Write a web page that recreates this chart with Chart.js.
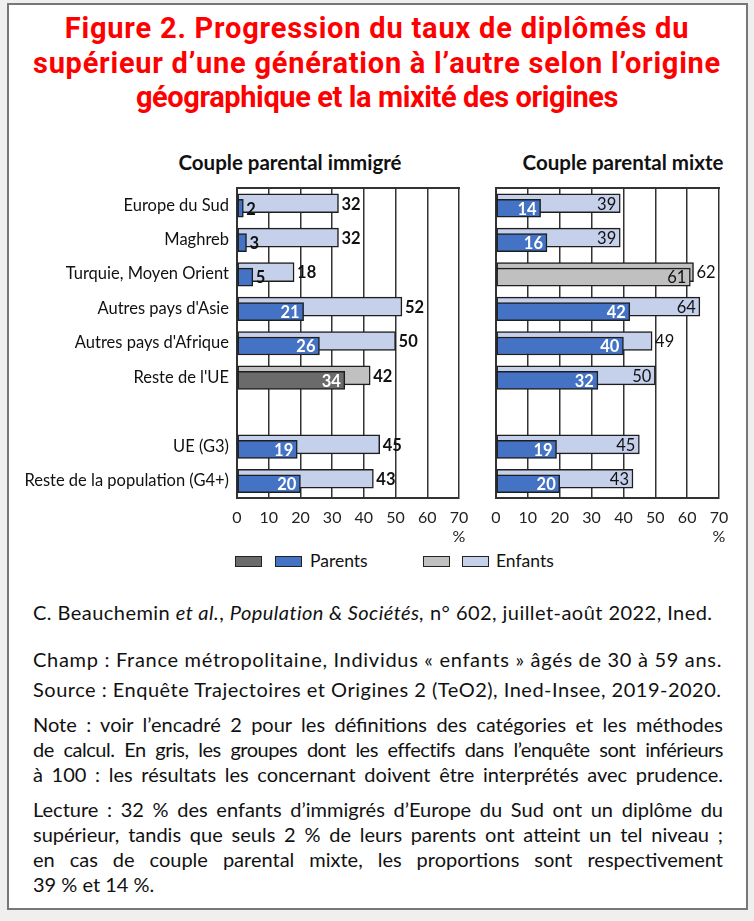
<!DOCTYPE html>
<html lang="fr">
<head>
<meta charset="utf-8">
<title>Figure 2</title>
<script src="https://cdn.jsdelivr.net/npm/chart.js"></script>
<style>
  html, body { margin: 0; padding: 0; }
  body { width: 754px; height: 921px; background: #efefef; position: relative; overflow: hidden; font-family: Lato, "Liberation Sans", sans-serif; color: #111; }
  #frame { position: absolute; left: 7px; top: 3px; width: 737px; height: 903px; border: 2px solid #777; background: #fff; }
  h1 { position: absolute; left: 0; top: 11px; width: 754px; margin: 0; text-align: center; color: #f00; font-family: Roboto, "Liberation Sans", sans-serif; font-weight: bold; font-size: 29px; line-height: 34.5px; }
  h1 span { display: block; }
  .sub { position: absolute; top: 150px; width: 300px; text-align: center; font-weight: bold; font-size: 20.5px; line-height: 24px; }
  #s1 { left: 140px; }
  #s2 { left: 473px; }
  .cv { position: absolute; top: 180px; height: 362px; }
  #c1 { left: 0; width: 480px; }
  #c2 { left: 480px; width: 274px; }
  #legend { position: absolute; top: 551px; left: 0; width: 754px; height: 20px; font-size: 17.5px; }
  #legend span { position: absolute; top: 0; line-height: 20px; }
  #legend i { position: absolute; top: 5px; width: 25px; height: 9px; border: 1.5px solid #222; }
  #notes { position: absolute; left: 33px; top: 600px; width: 690px; font-size: 20px; line-height: 25px; }
  #notes p { margin: 0; white-space: nowrap; }
  #notes .l { display: block; text-align: justify; text-align-last: justify; }
</style>
</head>
<body>
<div id="frame"></div>
<h1><span style="letter-spacing:0.8px">Figure 2. Progression du taux de diplômés du</span><span style="letter-spacing:0.75px">supérieur d’une génération à l’autre selon l’origine</span><span style="letter-spacing:-0.4px">géographique et la mixité des origines</span></h1>
<div class="sub" id="s1">Couple parental immigré</div>
<div class="sub" id="s2">Couple parental mixte</div>
<div class="cv" id="c1"><canvas id="chartImmigre"></canvas></div>
<div class="cv" id="c2"><canvas id="chartMixte"></canvas></div>
<div id="legend">
  <i style="left:235px;background:#6b6b6b"></i>
  <i style="left:275px;background:#4472c4"></i>
  <span style="left:310px">Parents</span>
  <i style="left:423px;background:#c0c0c0"></i>
  <i style="left:462px;background:#c5d0ea"></i>
  <span style="left:496px">Enfants</span>
</div>
<div id="notes">
  <p style="margin-bottom:22px;letter-spacing:0.45px">C. Beauchemin <i>et al.</i>, <i>Population &amp; Sociétés,</i> n° 602, juillet-août 2022, Ined.</p>
  <p style="margin-bottom:5px;letter-spacing:0.7px">Champ : France métropolitaine, Individus « enfants » âgés de 30 à 59 ans.</p>
  <p style="margin-bottom:10px;letter-spacing:0.5px">Source : Enquête Trajectoires et Origines 2 (TeO2), Ined-Insee, 2019-2020.</p>
  <p style="margin-bottom:10px">
    <span class="l">Note : voir l’encadré 2 pour les définitions des catégories et les méthodes</span>
    <span class="l" style="letter-spacing:-0.5px">de calcul. En gris, les groupes dont les effectifs dans l’enquête sont inférieurs</span>
    <span class="l">à 100 : les résultats les concernant doivent être interprétés avec prudence.</span>
  </p>
  <p>
    <span class="l">Lecture : 32 % des enfants d’immigrés d’Europe du Sud ont un diplôme du</span>
    <span class="l">supérieur, tandis que seuls 2 % de leurs parents ont atteint un tel niveau ;</span>
    <span class="l">en cas de couple parental mixte, les proportions sont respectivement</span>
    <span>39 % et 14 %.</span>
  </p>
</div>
<script>
// categories (the empty one is the gap before the reference groups)
const categories = ['Europe du Sud', 'Maghreb', 'Turquie, Moyen Orient', "Autres pays d'Asie",
  "Autres pays d'Afrique", "Reste de l'UE", '', 'UE (G3)', 'Reste de la population (G4+)'];

const immigreParents = [2, 3, 5, 21, 26, 34, null, 19, 20];
const immigreEnfants = [32, 32, 18, 52, 50, 42, null, 45, 43];
const mixteParents = [14, 16, 61, 42, 40, 32, null, 19, 20];
const mixteEnfants = [39, 39, 62, 64, 49, 50, null, 45, 43];

const xTicks = [0, 10, 20, 30, 40, 50, 60, 70];

// groups with fewer than 100 cases, drawn in grey
const immigreGris = ["Reste de l'UE"];
const mixteGris = ['Turquie, Moyen Orient'];

const BLUE = '#4472c4', LIGHT = '#c5d0ea', DARKGREY = '#6b6b6b', GREY = '#c0c0c0';
const FONT = 'Lato, "Liberation Sans", sans-serif';

// shift each dataset a few px so the two bars overlap like in the original
const shiftPlugin = {
  id: 'shiftBars',
  beforeDatasetDraw(chart, args) {
    chart.ctx.save();
    chart.ctx.translate(0, chart.data.datasets[args.index].shiftY || 0);
  },
  afterDatasetDraw(chart) {
    chart.ctx.restore();
  }
};

const labelPlugin = {
  id: 'valueLabels',
  afterDatasetsDraw(chart) {
    const ctx = chart.ctx;
    const mode = chart.options.plugins.valueLabels.mode;
    const gris = chart.options.plugins.valueLabels.gris;
    const parents = chart.data.datasets[0].data;
    ctx.save();
    ctx.textBaseline = 'middle';
    chart.data.datasets.forEach((ds, di) => {
      const meta = chart.getDatasetMeta(di);
      meta.data.forEach((bar, i) => {
        const v = ds.data[i];
        if (v == null) return;
        const y = bar.y + (ds.shiftY || 0) + 1;
        const grey = gris.includes(categories[i]);
        let inside, bold = true, color = '#111';
        if (di === 0) {
          inside = mode === 'immigre' ? v >= 10 : true;
          if (inside) color = (mode === 'mixte' && grey) ? '#111' : '#fff';
          if (mode === 'mixte' && grey) bold = false;
        } else {
          if (mode === 'immigre') inside = false;
          else { inside = v - parents[i] >= 10; bold = false; }
        }
        ctx.font = (bold ? 'bold ' : '') + '16.5px ' + FONT;
        ctx.fillStyle = color;
        if (inside) {
          ctx.textAlign = 'right';
          ctx.fillText(String(v), bar.x - 4, y);
        } else {
          ctx.textAlign = 'left';
          ctx.fillText(String(v), bar.x + 3, y);
        }
      });
    });
    ctx.restore();
  }
};

function makeChart(id, parents, enfants, gris, mode) {
  const isLeft = mode === 'immigre';
  return new Chart(document.getElementById(id), {
    type: 'bar',
    data: {
      labels: categories,
      datasets: [
        {
          label: 'Parents',
          data: parents,
          backgroundColor: categories.map(c => gris.includes(c) ? (isLeft ? DARKGREY : GREY) : BLUE),
          borderColor: '#1e1e1e',
          borderWidth: 1.5,
          borderSkipped: false,
          barThickness: 18,
          grouped: false,
          shiftY: 3
        },
        {
          label: 'Enfants',
          data: enfants,
          backgroundColor: categories.map(c => gris.includes(c) ? GREY : LIGHT),
          borderColor: '#1e1e1e',
          borderWidth: 1.5,
          borderSkipped: false,
          barThickness: 19,
          grouped: false,
          shiftY: -2
        }
      ]
    },
    options: {
      indexAxis: 'y',
      responsive: true,
      maintainAspectRatio: false,
      animation: false,
      layout: { padding: isLeft ? { top: 8, right: 21, left: 0, bottom: 0 } : { top: 8, right: 35, left: 16, bottom: 0 } },
      scales: {
        x: {
          min: 0, max: 70,
          afterBuildTicks: s => { s.ticks = xTicks.map(v => ({ value: v })); },
          afterFit: s => { s.height = 44; },
          grid: { color: '#333', lineWidth: 1.5, drawTicks: false },
          border: { color: '#333', width: 2 },
          ticks: {
            padding: 10,
            color: '#222',
            font: { family: FONT, size: 16 },
            callback: v => v === 70 ? ['70', '%'] : String(v)
          }
        },
        x2: {
          type: 'linear', position: 'top', min: 0, max: 70, display: true,
          afterFit: s => { s.height = 0; },
          grid: { display: false, drawTicks: false },
          border: { display: true, color: '#333', width: 2 },
          ticks: { display: false, padding: 0 }
        },
        y: {
          afterFit: s => {
            s.width = isLeft ? 237 : 0;
            s.paddingTop = 0;
            s.paddingBottom = 0;
          },
          grid: { display: false, drawTicks: false },
          border: { color: '#333', width: 2 },
          ticks: {
            display: isLeft,
            padding: 8,
            color: '#111',
            font: { family: FONT, size: 16.5 }
          }
        }
      },
      plugins: {
        legend: { display: false },
        tooltip: { enabled: false },
        valueLabels: { mode: mode, gris: gris }
      }
    },
    plugins: [shiftPlugin, labelPlugin]
  });
}

makeChart('chartImmigre', immigreParents, immigreEnfants, immigreGris, 'immigre');
makeChart('chartMixte', mixteParents, mixteEnfants, mixteGris, 'mixte');
</script>
</body>
</html>
